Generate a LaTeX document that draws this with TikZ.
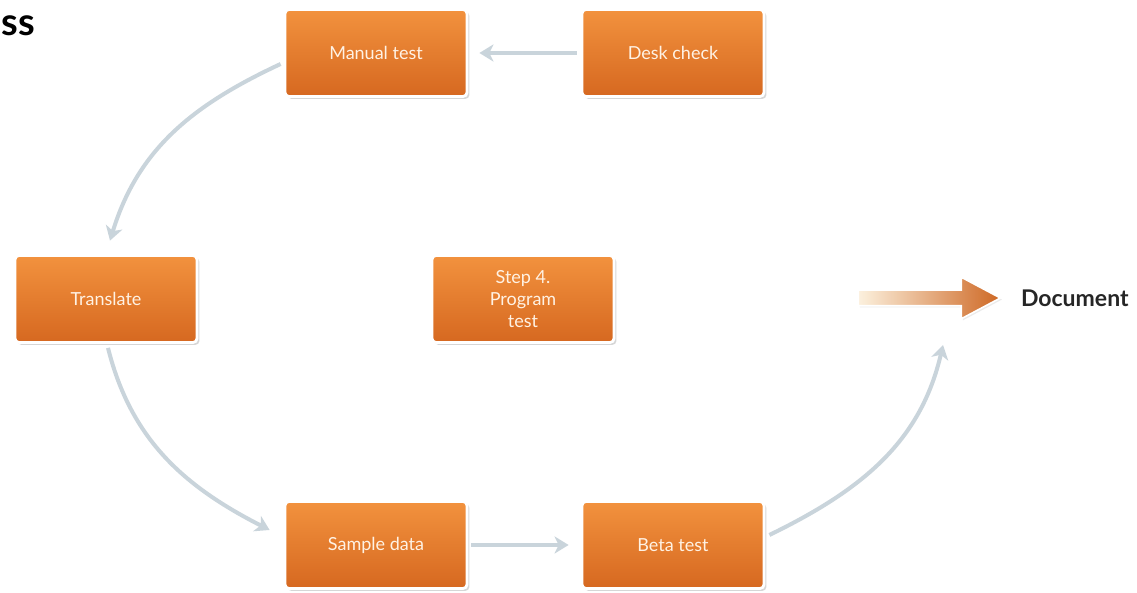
\documentclass[tikz,border=0pt]{standalone}
\usepackage{fontspec}
\setmainfont{Lato}
\usetikzlibrary{arrows.meta,shadows,shapes.arrows}
\definecolor{boxtop}{RGB}{242,146,62}
\definecolor{boxbot}{RGB}{214,104,32}
\definecolor{boxtext}{RGB}{255,242,228}
\definecolor{linkgray}{RGB}{201,212,219}
\definecolor{arrowlight}{RGB}{252,241,222}
\definecolor{arrowdark}{RGB}{206,104,36}
\definecolor{doctext}{RGB}{38,38,38}
\tikzset{
	stepbox/.style={rectangle, rounded corners=2pt, draw=white, line width=1.4pt,
		top color=boxtop, bottom color=boxbot, minimum width=91pt, minimum height=43.5pt,
		align=center, text=boxtext, font=\fontsize{9}{11}\selectfont,
		drop shadow={shadow xshift=1.2pt, shadow yshift=-1.2pt, fill=black!45, opacity=0.35}},
	link/.style={draw=linkgray, line width=2pt, -{Stealth[length=7pt,width=8.5pt,inset=2pt]}}
}

\begin{document}
\begin{tikzpicture}[x=0.5pt,y=0.5pt]
		\clip (0,0) rectangle (1137,593);
		\fill[white] (0,0) rectangle (1137,593);

		\node[anchor=west, inner sep=0pt, font=\bfseries\fontsize{19}{22}\selectfont] (title) at (1,567) {ss};

		\node[stepbox] (manual) at (376,540) {Manual test};
		\node[stepbox] (desk) at (673,540) {Desk check};
		\node[stepbox] (translate) at (106,294) {Translate};
		\node[stepbox] (step) at (523,294) {Step 4.\\Program\\test};
		\node[stepbox] (sample) at (376,48) {Sample data};
		\node[stepbox] (beta) at (673,48) {Beta test};

		\node[single arrow, minimum height=71pt, minimum width=20pt, inner sep=3.5pt,
			single arrow head extend=6.5pt, single arrow tip angle=56,
			left color=arrowlight, right color=arrowdark, draw=white, line width=0.8pt,
			drop shadow={shadow xshift=0.8pt, shadow yshift=-0.8pt, fill=black!30, opacity=0.25}]
			(docarrow) at (922,295) {};
		\node[anchor=west, font=\bfseries\fontsize{11.5}{13}\selectfont, text=doctext] (doc) at (1014,295) {Document};

		\draw[link] ([xshift=-2pt]desk.west) -- ([xshift=5.5pt]manual.east);
		\draw[link] ([xshift=-1.5pt,yshift=-5.5pt]manual.west) to[out=205, in=73] ([xshift=2pt,yshift=6.75pt]translate.north);
		\draw[link] ([xshift=1pt,yshift=-2pt]translate.south) to[out=-76, in=153] ([xshift=-7pt,yshift=7.5pt]sample.west);
		\draw[link] ([xshift=1.5pt]sample.east) -- ([xshift=-6pt]beta.west);
		\draw[link] ([xshift=2pt,yshift=5pt]beta.east) to[out=26, in=-103] ([xshift=10.5pt,yshift=-23.5pt]docarrow.center);
	\end{tikzpicture}
\end{document}
